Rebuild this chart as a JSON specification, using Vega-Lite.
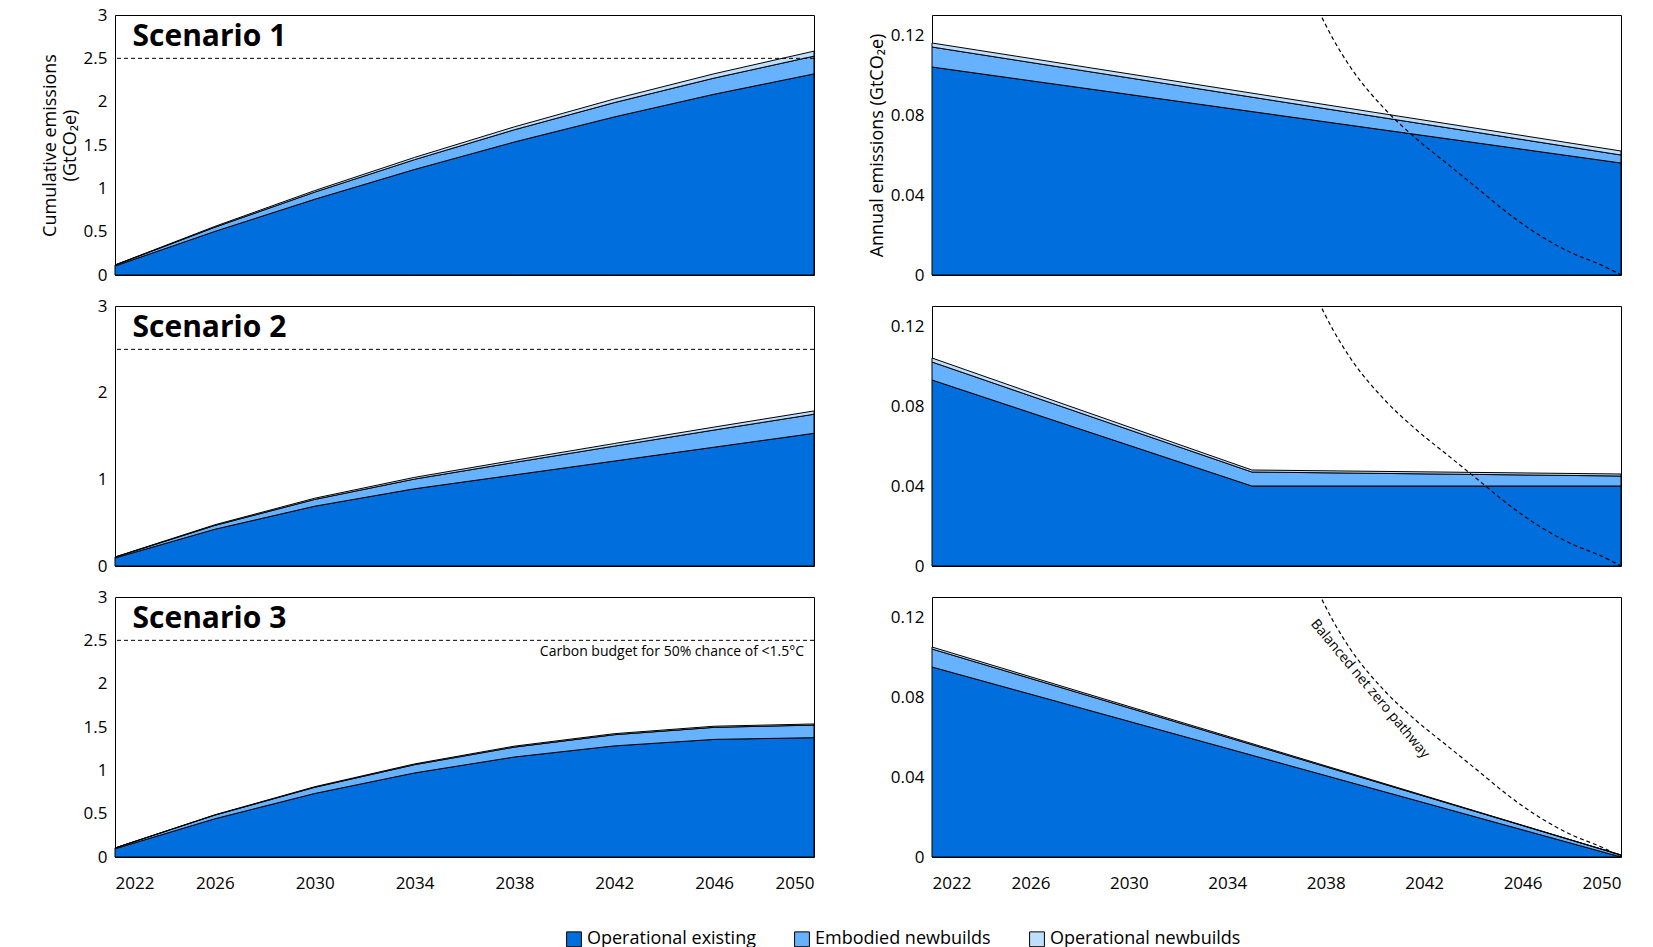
{
  "$schema": "https://vega.github.io/schema/vega-lite/v6.json",
  "background": "white",
  "padding": {"left": 40, "top": 5, "right": 10, "bottom": 5},
  "datasets": {
    "cum": [
      {"s": 1, "year": 2022, "comp": "Operational existing", "o": 1, "v": 0.104},
      {"s": 1, "year": 2026, "comp": "Operational existing", "o": 1, "v": 0.503},
      {"s": 1, "year": 2030, "comp": "Operational existing", "o": 1, "v": 0.874},
      {"s": 1, "year": 2034, "comp": "Operational existing", "o": 1, "v": 1.218},
      {"s": 1, "year": 2038, "comp": "Operational existing", "o": 1, "v": 1.535},
      {"s": 1, "year": 2042, "comp": "Operational existing", "o": 1, "v": 1.824},
      {"s": 1, "year": 2046, "comp": "Operational existing", "o": 1, "v": 2.086},
      {"s": 1, "year": 2050, "comp": "Operational existing", "o": 1, "v": 2.32},
      {"s": 1, "year": 2022, "comp": "Embodied newbuilds", "o": 2, "v": 0.01},
      {"s": 1, "year": 2026, "comp": "Embodied newbuilds", "o": 2, "v": 0.048},
      {"s": 1, "year": 2030, "comp": "Embodied newbuilds", "o": 2, "v": 0.082},
      {"s": 1, "year": 2034, "comp": "Embodied newbuilds", "o": 2, "v": 0.113},
      {"s": 1, "year": 2038, "comp": "Embodied newbuilds", "o": 2, "v": 0.141},
      {"s": 1, "year": 2042, "comp": "Embodied newbuilds", "o": 2, "v": 0.165},
      {"s": 1, "year": 2046, "comp": "Embodied newbuilds", "o": 2, "v": 0.186},
      {"s": 1, "year": 2050, "comp": "Embodied newbuilds", "o": 2, "v": 0.205},
      {"s": 1, "year": 2022, "comp": "Operational newbuilds", "o": 3, "v": 0.002},
      {"s": 1, "year": 2026, "comp": "Operational newbuilds", "o": 3, "v": 0.01},
      {"s": 1, "year": 2030, "comp": "Operational newbuilds", "o": 3, "v": 0.018},
      {"s": 1, "year": 2034, "comp": "Operational newbuilds", "o": 3, "v": 0.026},
      {"s": 1, "year": 2038, "comp": "Operational newbuilds", "o": 3, "v": 0.034},
      {"s": 1, "year": 2042, "comp": "Operational newbuilds", "o": 3, "v": 0.042},
      {"s": 1, "year": 2046, "comp": "Operational newbuilds", "o": 3, "v": 0.05},
      {"s": 1, "year": 2050, "comp": "Operational newbuilds", "o": 3, "v": 0.058},
      {"s": 2, "year": 2022, "comp": "Operational existing", "o": 1, "v": 0.093},
      {"s": 2, "year": 2026, "comp": "Operational existing", "o": 1, "v": 0.424},
      {"s": 2, "year": 2030, "comp": "Operational existing", "o": 1, "v": 0.69},
      {"s": 2, "year": 2034, "comp": "Operational existing", "o": 1, "v": 0.891},
      {"s": 2, "year": 2038, "comp": "Operational existing", "o": 1, "v": 1.051},
      {"s": 2, "year": 2042, "comp": "Operational existing", "o": 1, "v": 1.211},
      {"s": 2, "year": 2046, "comp": "Operational existing", "o": 1, "v": 1.371},
      {"s": 2, "year": 2050, "comp": "Operational existing", "o": 1, "v": 1.531},
      {"s": 2, "year": 2022, "comp": "Embodied newbuilds", "o": 2, "v": 0.009},
      {"s": 2, "year": 2026, "comp": "Embodied newbuilds", "o": 2, "v": 0.044},
      {"s": 2, "year": 2030, "comp": "Embodied newbuilds", "o": 2, "v": 0.078},
      {"s": 2, "year": 2034, "comp": "Embodied newbuilds", "o": 2, "v": 0.112},
      {"s": 2, "year": 2038, "comp": "Embodied newbuilds", "o": 2, "v": 0.144},
      {"s": 2, "year": 2042, "comp": "Embodied newbuilds", "o": 2, "v": 0.172},
      {"s": 2, "year": 2046, "comp": "Embodied newbuilds", "o": 2, "v": 0.198},
      {"s": 2, "year": 2050, "comp": "Embodied newbuilds", "o": 2, "v": 0.22},
      {"s": 2, "year": 2022, "comp": "Operational newbuilds", "o": 3, "v": 0.002},
      {"s": 2, "year": 2026, "comp": "Operational newbuilds", "o": 3, "v": 0.008},
      {"s": 2, "year": 2030, "comp": "Operational newbuilds", "o": 3, "v": 0.014},
      {"s": 2, "year": 2034, "comp": "Operational newbuilds", "o": 3, "v": 0.02},
      {"s": 2, "year": 2038, "comp": "Operational newbuilds", "o": 3, "v": 0.025},
      {"s": 2, "year": 2042, "comp": "Operational newbuilds", "o": 3, "v": 0.03},
      {"s": 2, "year": 2046, "comp": "Operational newbuilds", "o": 3, "v": 0.034},
      {"s": 2, "year": 2050, "comp": "Operational newbuilds", "o": 3, "v": 0.038},
      {"s": 3, "year": 2022, "comp": "Operational existing", "o": 1, "v": 0.095},
      {"s": 3, "year": 2026, "comp": "Operational existing", "o": 1, "v": 0.441},
      {"s": 3, "year": 2030, "comp": "Operational existing", "o": 1, "v": 0.733},
      {"s": 3, "year": 2034, "comp": "Operational existing", "o": 1, "v": 0.97},
      {"s": 3, "year": 2038, "comp": "Operational existing", "o": 1, "v": 1.154},
      {"s": 3, "year": 2042, "comp": "Operational existing", "o": 1, "v": 1.282},
      {"s": 3, "year": 2046, "comp": "Operational existing", "o": 1, "v": 1.357},
      {"s": 3, "year": 2050, "comp": "Operational existing", "o": 1, "v": 1.377},
      {"s": 3, "year": 2022, "comp": "Embodied newbuilds", "o": 2, "v": 0.009},
      {"s": 3, "year": 2026, "comp": "Embodied newbuilds", "o": 2, "v": 0.042},
      {"s": 3, "year": 2030, "comp": "Embodied newbuilds", "o": 2, "v": 0.071},
      {"s": 3, "year": 2034, "comp": "Embodied newbuilds", "o": 2, "v": 0.095},
      {"s": 3, "year": 2038, "comp": "Embodied newbuilds", "o": 2, "v": 0.114},
      {"s": 3, "year": 2042, "comp": "Embodied newbuilds", "o": 2, "v": 0.129},
      {"s": 3, "year": 2046, "comp": "Embodied newbuilds", "o": 2, "v": 0.139},
      {"s": 3, "year": 2050, "comp": "Embodied newbuilds", "o": 2, "v": 0.145},
      {"s": 3, "year": 2022, "comp": "Operational newbuilds", "o": 3, "v": 0.001},
      {"s": 3, "year": 2026, "comp": "Operational newbuilds", "o": 3, "v": 0.004},
      {"s": 3, "year": 2030, "comp": "Operational newbuilds", "o": 3, "v": 0.007},
      {"s": 3, "year": 2034, "comp": "Operational newbuilds", "o": 3, "v": 0.009},
      {"s": 3, "year": 2038, "comp": "Operational newbuilds", "o": 3, "v": 0.011},
      {"s": 3, "year": 2042, "comp": "Operational newbuilds", "o": 3, "v": 0.012},
      {"s": 3, "year": 2046, "comp": "Operational newbuilds", "o": 3, "v": 0.013},
      {"s": 3, "year": 2050, "comp": "Operational newbuilds", "o": 3, "v": 0.013}
    ],
    "ann": [
      {"s": 1, "year": 2022, "comp": "Operational existing", "o": 1, "v": 0.104},
      {"s": 1, "year": 2050, "comp": "Operational existing", "o": 1, "v": 0.056},
      {"s": 1, "year": 2022, "comp": "Embodied newbuilds", "o": 2, "v": 0.01},
      {"s": 1, "year": 2050, "comp": "Embodied newbuilds", "o": 2, "v": 0.004},
      {"s": 1, "year": 2022, "comp": "Operational newbuilds", "o": 3, "v": 0.002},
      {"s": 1, "year": 2050, "comp": "Operational newbuilds", "o": 3, "v": 0.002},
      {"s": 2, "year": 2022, "comp": "Operational existing", "o": 1, "v": 0.093},
      {"s": 2, "year": 2035, "comp": "Operational existing", "o": 1, "v": 0.04},
      {"s": 2, "year": 2050, "comp": "Operational existing", "o": 1, "v": 0.04},
      {"s": 2, "year": 2022, "comp": "Embodied newbuilds", "o": 2, "v": 0.009},
      {"s": 2, "year": 2035, "comp": "Embodied newbuilds", "o": 2, "v": 0.007},
      {"s": 2, "year": 2050, "comp": "Embodied newbuilds", "o": 2, "v": 0.005},
      {"s": 2, "year": 2022, "comp": "Operational newbuilds", "o": 3, "v": 0.002},
      {"s": 2, "year": 2035, "comp": "Operational newbuilds", "o": 3, "v": 0.001},
      {"s": 2, "year": 2050, "comp": "Operational newbuilds", "o": 3, "v": 0.001},
      {"s": 3, "year": 2022, "comp": "Operational existing", "o": 1, "v": 0.095},
      {"s": 3, "year": 2050, "comp": "Operational existing", "o": 1, "v": 0.0},
      {"s": 3, "year": 2022, "comp": "Embodied newbuilds", "o": 2, "v": 0.009},
      {"s": 3, "year": 2050, "comp": "Embodied newbuilds", "o": 2, "v": 0.001},
      {"s": 3, "year": 2022, "comp": "Operational newbuilds", "o": 3, "v": 0.001},
      {"s": 3, "year": 2050, "comp": "Operational newbuilds", "o": 3, "v": 0.0}
    ],
    "nz": [
      {"year": 2037.6, "v": 0.135},
      {"year": 2038.3, "v": 0.118},
      {"year": 2039, "v": 0.104},
      {"year": 2040.4, "v": 0.083},
      {"year": 2041.6, "v": 0.069},
      {"year": 2043, "v": 0.055},
      {"year": 2044.2, "v": 0.043},
      {"year": 2045.5, "v": 0.03},
      {"year": 2046.8, "v": 0.019},
      {"year": 2048, "v": 0.011},
      {"year": 2049.2, "v": 0.005},
      {"year": 2050, "v": 0.0}
    ]
  },
  "concat": [
    {
      "width": 699, "height": 260,
      "layer": [
        {"data": {"name": "cum"}, "transform": [{"filter": "datum.s == 1"}],
         "mark": {"type": "area", "stroke": "black", "strokeWidth": 1},
         "encoding": {
           "x": {"field": "year", "type": "quantitative", "scale": {"domain": [2022, 2050]}, "axis": null},
           "y": {"field": "v", "type": "quantitative", "stack": "zero", "scale": {"domain": [0, 3]}, "axis": {"values": [0, 0.5, 1, 1.5, 2, 2.5, 3], "format": "~g", "grid": false, "ticks": false, "domain": false, "title": ["Cumulative emissions", "(GtCO₂e)"]}},
           "color": {"field": "comp", "type": "nominal", "title": null, "scale": {"domain": ["Operational existing", "Embodied newbuilds", "Operational newbuilds"], "range": ["#006EDC", "#66B2FF", "#BFDFFF"]}, "legend": {"orient": "none", "legendX": 450, "legendY": 915, "direction": "horizontal"}},
           "order": {"field": "o"}
         }},
        {"data": {"values": [{}]}, "mark": {"type": "rule", "strokeDash": [4, 3], "color": "black"}, "encoding": {"y": {"datum": 2.5}}},
        {"data": {"values": [{}]}, "mark": {"type": "text", "align": "left", "baseline": "middle", "fontSize": 30, "fontWeight": "bold", "font": "Open Sans"}, "encoding": {"x": {"datum": 2022.7}, "y": {"datum": 2.75}, "text": {"value": "Scenario 1"}}}
      ]
    },
    {
      "width": 689, "height": 260,
      "layer": [
        {"data": {"name": "ann"}, "transform": [{"filter": "datum.s == 1"}],
         "mark": {"type": "area", "stroke": "black", "strokeWidth": 1},
         "encoding": {
           "x": {"field": "year", "type": "quantitative", "scale": {"domain": [2022, 2050]}, "axis": null},
           "y": {"field": "v", "type": "quantitative", "stack": "zero", "scale": {"domain": [0, 0.13]}, "axis": {"values": [0, 0.04, 0.08, 0.12], "format": "~g", "grid": false, "ticks": false, "domain": false, "title": "Annual emissions (GtCO₂e)"}},
           "color": {"field": "comp", "type": "nominal"},
           "order": {"field": "o"}
         }},
        {"data": {"name": "nz"}, "mark": {"type": "line", "strokeDash": [4, 3], "color": "black", "strokeWidth": 1.2, "clip": true, "interpolate": "monotone"}, "encoding": {"x": {"field": "year", "type": "quantitative"}, "y": {"field": "v", "type": "quantitative"}}}
      ]
    },
    {
      "width": 699, "height": 260,
      "layer": [
        {"data": {"name": "cum"}, "transform": [{"filter": "datum.s == 2"}],
         "mark": {"type": "area", "stroke": "black", "strokeWidth": 1},
         "encoding": {
           "x": {"field": "year", "type": "quantitative", "scale": {"domain": [2022, 2050]}, "axis": null},
           "y": {"field": "v", "type": "quantitative", "stack": "zero", "scale": {"domain": [0, 3]}, "axis": {"values": [0, 1, 2, 3], "format": "~g", "grid": false, "ticks": false, "domain": false, "title": null}},
           "color": {"field": "comp", "type": "nominal"},
           "order": {"field": "o"}
         }},
        {"data": {"values": [{}]}, "mark": {"type": "rule", "strokeDash": [4, 3], "color": "black"}, "encoding": {"y": {"datum": 2.5}}},
        {"data": {"values": [{}]}, "mark": {"type": "text", "align": "left", "baseline": "middle", "fontSize": 30, "fontWeight": "bold", "font": "Open Sans"}, "encoding": {"x": {"datum": 2022.7}, "y": {"datum": 2.75}, "text": {"value": "Scenario 2"}}}
      ]
    },
    {
      "width": 689, "height": 260,
      "layer": [
        {"data": {"name": "ann"}, "transform": [{"filter": "datum.s == 2"}],
         "mark": {"type": "area", "stroke": "black", "strokeWidth": 1},
         "encoding": {
           "x": {"field": "year", "type": "quantitative", "scale": {"domain": [2022, 2050]}, "axis": null},
           "y": {"field": "v", "type": "quantitative", "stack": "zero", "scale": {"domain": [0, 0.13]}, "axis": {"values": [0, 0.04, 0.08, 0.12], "format": "~g", "grid": false, "ticks": false, "domain": false, "title": null}},
           "color": {"field": "comp", "type": "nominal"},
           "order": {"field": "o"}
         }},
        {"data": {"name": "nz"}, "mark": {"type": "line", "strokeDash": [4, 3], "color": "black", "strokeWidth": 1.2, "clip": true, "interpolate": "monotone"}, "encoding": {"x": {"field": "year", "type": "quantitative"}, "y": {"field": "v", "type": "quantitative"}}}
      ]
    },
    {
      "width": 699, "height": 260,
      "layer": [
        {"data": {"name": "cum"}, "transform": [{"filter": "datum.s == 3"}],
         "mark": {"type": "area", "stroke": "black", "strokeWidth": 1},
         "encoding": {
           "x": {"field": "year", "type": "quantitative", "scale": {"domain": [2022, 2050]}, "axis": {"values": [2022, 2026, 2030, 2034, 2038, 2042, 2046, 2050], "format": "d", "ticks": false, "title": null, "grid": false, "domain": false, "labelPadding": 18}},
           "y": {"field": "v", "type": "quantitative", "stack": "zero", "scale": {"domain": [0, 3]}, "axis": {"values": [0, 0.5, 1, 1.5, 2, 2.5, 3], "format": "~g", "grid": false, "ticks": false, "domain": false, "title": null}},
           "color": {"field": "comp", "type": "nominal"},
           "order": {"field": "o"}
         }},
        {"data": {"values": [{}]}, "mark": {"type": "rule", "strokeDash": [4, 3], "color": "black"}, "encoding": {"y": {"datum": 2.5}}},
        {"data": {"values": [{}]}, "mark": {"type": "text", "align": "left", "baseline": "middle", "fontSize": 30, "fontWeight": "bold", "font": "Open Sans"}, "encoding": {"x": {"datum": 2022.7}, "y": {"datum": 2.75}, "text": {"value": "Scenario 3"}}},
        {"data": {"values": [{}]}, "mark": {"type": "text", "align": "right", "baseline": "middle", "fontSize": 14, "font": "Open Sans"}, "encoding": {"x": {"datum": 2049.6}, "y": {"datum": 2.36}, "text": {"value": "Carbon budget for 50% chance of <1.5°C"}}}
      ]
    },
    {
      "width": 689, "height": 260,
      "layer": [
        {"data": {"name": "ann"}, "transform": [{"filter": "datum.s == 3"}],
         "mark": {"type": "area", "stroke": "black", "strokeWidth": 1},
         "encoding": {
           "x": {"field": "year", "type": "quantitative", "scale": {"domain": [2022, 2050]}, "axis": {"values": [2022, 2026, 2030, 2034, 2038, 2042, 2046, 2050], "format": "d", "ticks": false, "title": null, "grid": false, "domain": false, "labelPadding": 18}},
           "y": {"field": "v", "type": "quantitative", "stack": "zero", "scale": {"domain": [0, 0.13]}, "axis": {"values": [0, 0.04, 0.08, 0.12], "format": "~g", "grid": false, "ticks": false, "domain": false, "title": null}},
           "color": {"field": "comp", "type": "nominal"},
           "order": {"field": "o"}
         }},
        {"data": {"name": "nz"}, "mark": {"type": "line", "strokeDash": [4, 3], "color": "black", "strokeWidth": 1.2, "clip": true, "interpolate": "monotone"}, "encoding": {"x": {"field": "year", "type": "quantitative"}, "y": {"field": "v", "type": "quantitative"}}},
        {"data": {"values": [{}]}, "mark": {"type": "text", "align": "center", "baseline": "middle", "fontSize": 14, "font": "Open Sans", "angle": 50}, "encoding": {"x": {"datum": 2039.8}, "y": {"datum": 0.084}, "text": {"value": "Balanced net zero pathway"}}}
      ]
    }
  ],
  "columns": 2,
  "spacing": {"row": 12, "column": 50},
  "config": {
    "font": "Open Sans",
    "view": {"stroke": "black", "strokeWidth": 1},
    "axis": {"labelFontSize": 17, "labelColor": "black", "titleFontSize": 18, "titleFontWeight": "normal", "titleColor": "black", "labelPadding": 8},
    "legend": {"labelFontSize": 18, "labelColor": "black", "symbolType": "square", "symbolSize": 220, "symbolStrokeColor": "black", "symbolStrokeWidth": 1, "columnPadding": 36, "labelLimit": 300}
  }
}
